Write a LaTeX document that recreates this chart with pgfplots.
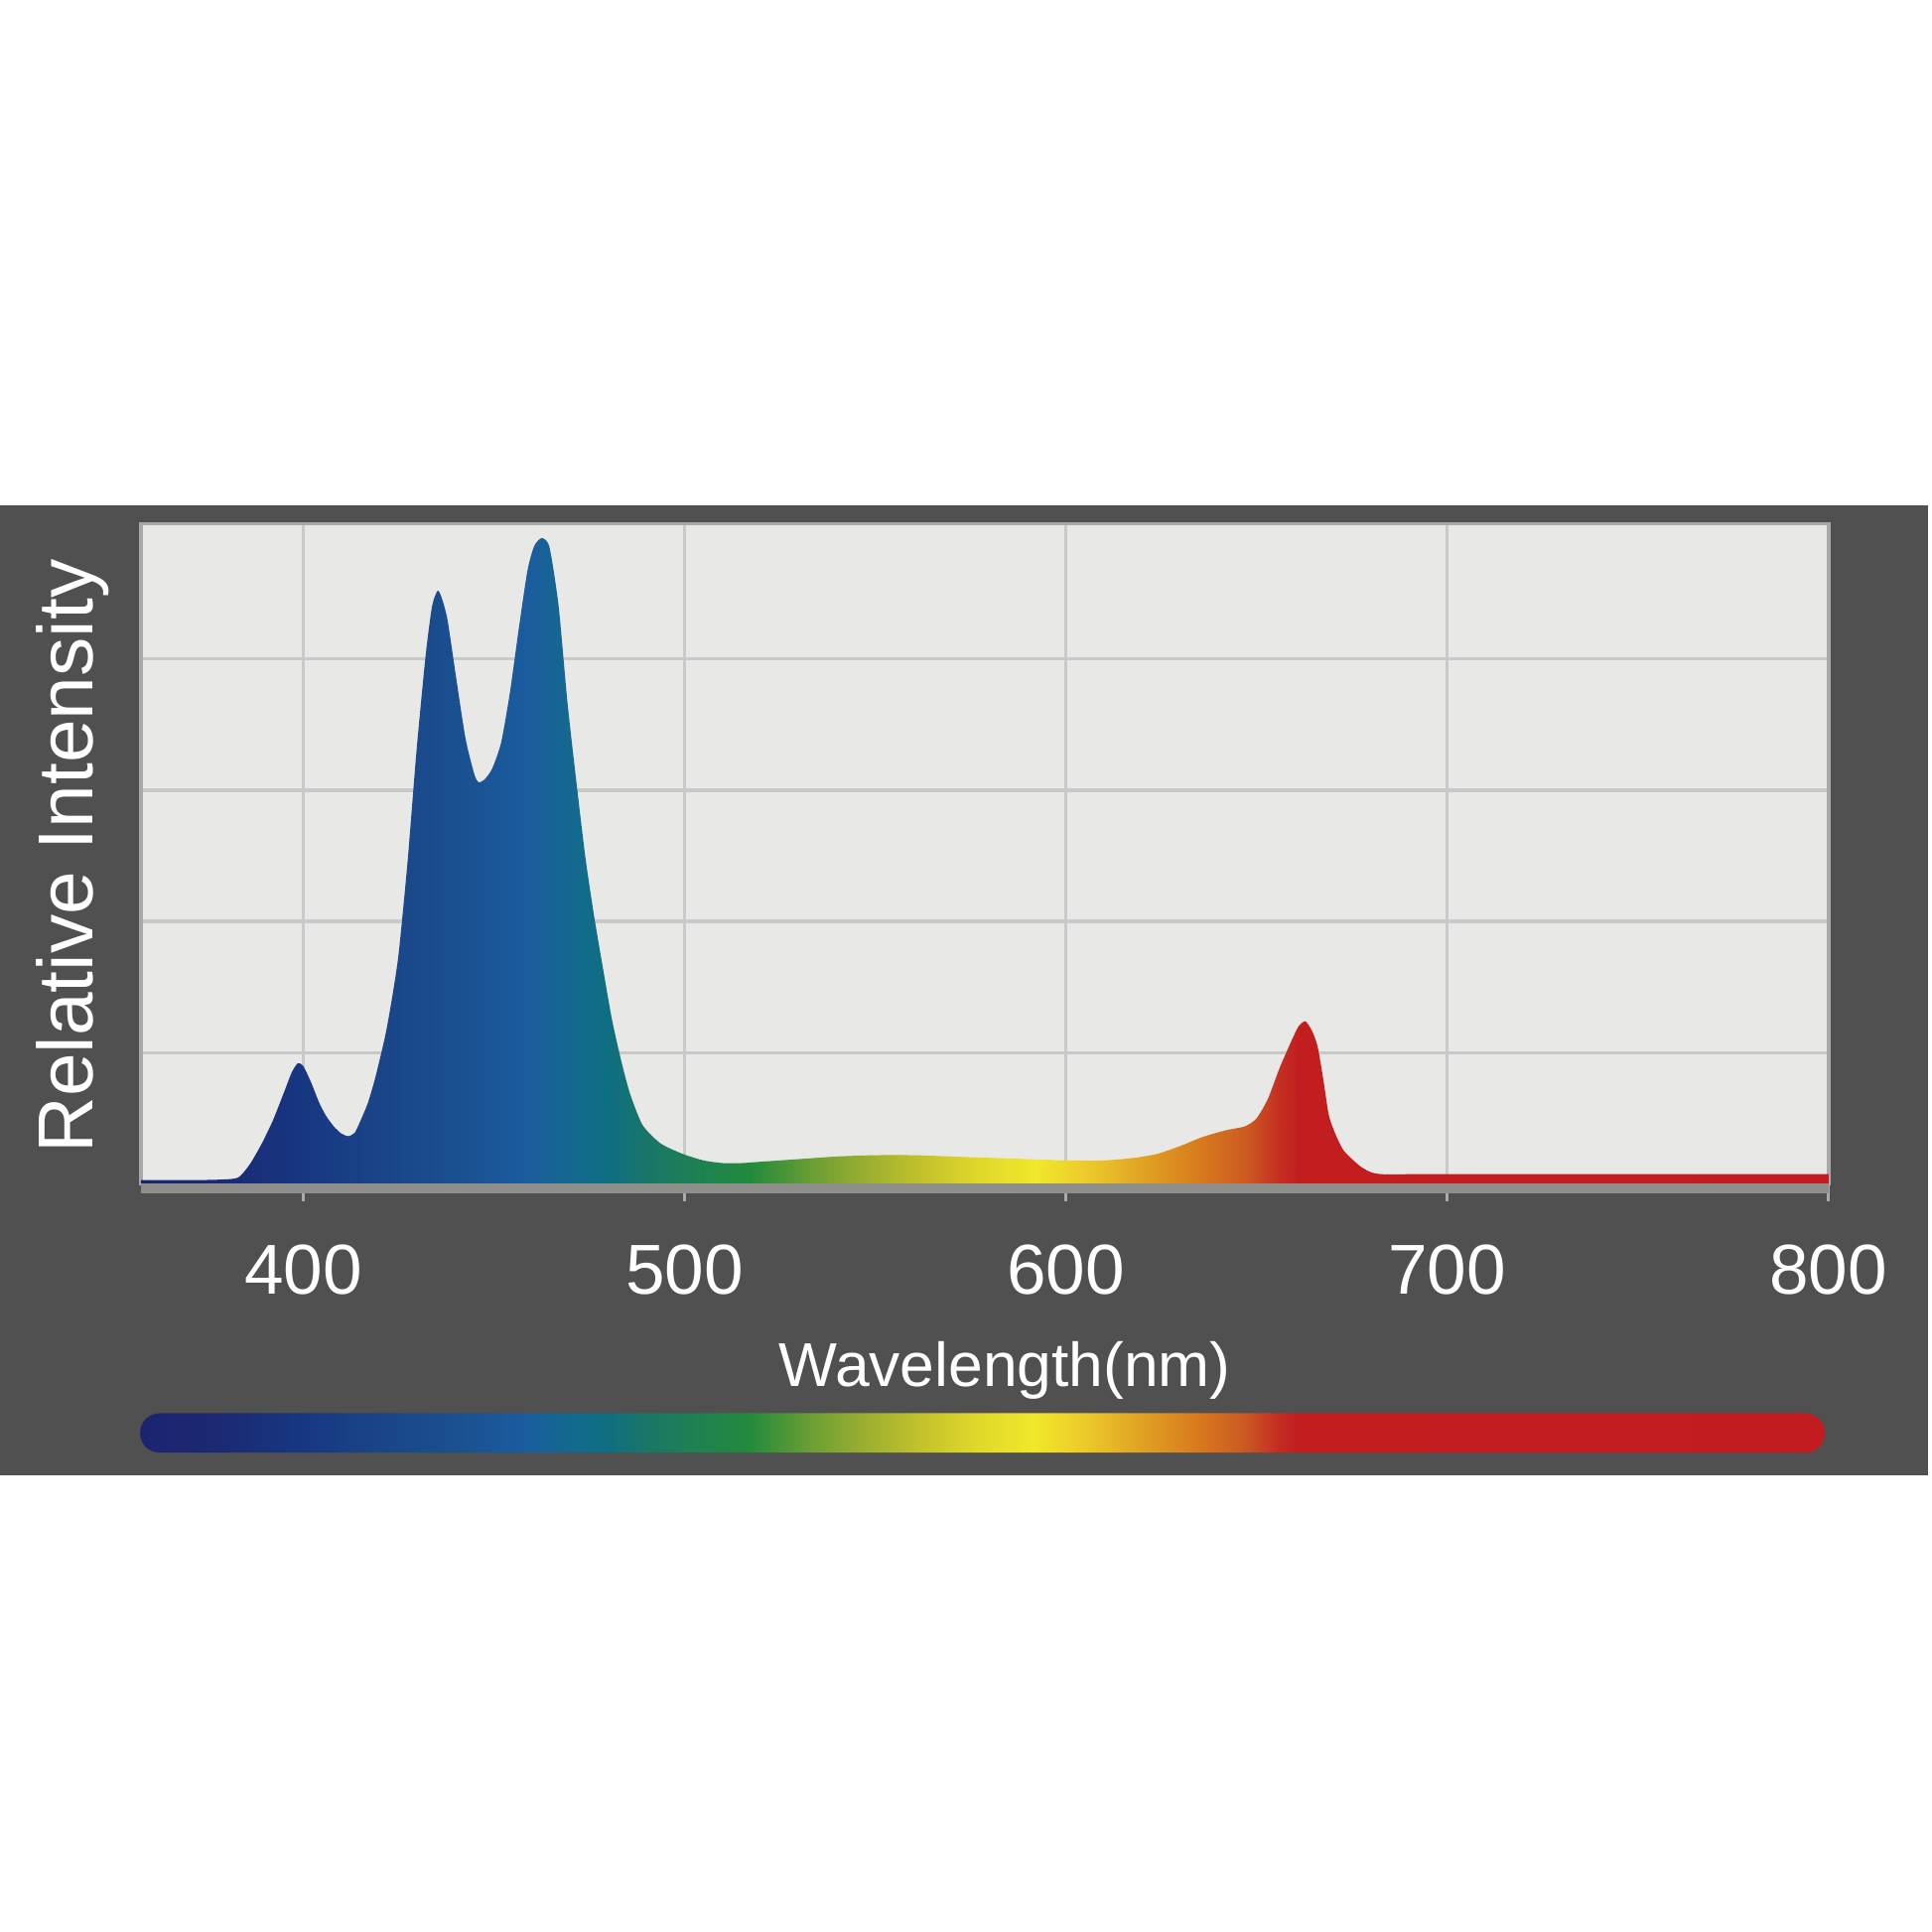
\documentclass[border=0pt]{standalone}
\usepackage{fontspec}
\setmainfont{Liberation Sans}
\usepackage{pgfplots}
\pgfplotsset{compat=1.18}
\usepackage{pgfplotstable}
\definecolor{panel}{HTML}{505050}
\definecolor{plotbg}{HTML}{E8E8E6}
\definecolor{gridc}{HTML}{C9C9C9}
\definecolor{framec}{HTML}{A8A8A8}
\definecolor{basec}{HTML}{8E8E8A}
\definecolor{tickc}{HTML}{ABABAB}
\definecolor{s1}{HTML}{1C2470}
\definecolor{s2}{HTML}{1C2872}
\definecolor{s3}{HTML}{173580}
\definecolor{s4}{HTML}{1A4488}
\definecolor{s5}{HTML}{1A5090}
\definecolor{s6}{HTML}{1A5C9E}
\definecolor{s7}{HTML}{136A8E}
\definecolor{s8}{HTML}{0E6E82}
\definecolor{s9}{HTML}{197668}
\definecolor{s10}{HTML}{1E8250}
\definecolor{s11}{HTML}{228A3C}
\definecolor{s12}{HTML}{6A9E34}
\definecolor{s13}{HTML}{9AAE30}
\definecolor{s14}{HTML}{C0C02C}
\definecolor{s15}{HTML}{E0D82A}
\definecolor{s16}{HTML}{F0E82A}
\definecolor{s17}{HTML}{ECC82A}
\definecolor{s18}{HTML}{E0A222}
\definecolor{s19}{HTML}{D87A1E}
\definecolor{s20}{HTML}{CC5A22}
\definecolor{s21}{HTML}{C42E22}
\definecolor{s22}{HTML}{C21E20}
\definecolor{s23}{HTML}{C21C20}
\pgfdeclarehorizontalshading{spectrum}{100bp}{color(0bp)=(s1); color(25bp)=(s1); color(27.144bp)=(s2); color(29.515bp)=(s3); color(31.998bp)=(s4); color(34.368bp)=(s5); color(36.40bp)=(s6); color(37.867bp)=(s7); color(38.77bp)=(s8); color(40.011bp)=(s9); color(41.591bp)=(s10); color(43.059bp)=(s11); color(44.865bp)=(s12); color(46.445bp)=(s13); color(48.025bp)=(s14); color(49.831bp)=(s15); color(51.524bp)=(s16); color(53.104bp)=(s17); color(54.684bp)=(s18); color(56.377bp)=(s19); color(57.731bp)=(s20); color(58.747bp)=(s21); color(59.311bp)=(s22); color(75bp)=(s23); color(100bp)=(s23)}
\pgfplotstableread{
x y
357.5 0.03
365 0.03
372 0.03
379 0.035
383 0.05
386 0.15
389 0.30
392 0.48
395 0.70
397 0.85
398.6 0.92
400 0.90
402 0.78
404.2 0.62
406 0.52
408 0.44
410 0.385
411.8 0.365
413.5 0.39
415 0.48
417 0.62
419 0.82
421.6 1.14
423.5 1.45
425.1 1.77
427.4 2.46
429.7 3.29
432.1 4.02
433.8 4.40
435.3 4.52
436.5 4.45
437.9 4.29
440.2 3.84
442.6 3.39
444.9 3.12
446 3.06
447.5 3.08
449.5 3.16
451.9 3.36
454.2 3.74
456.5 4.22
458.8 4.67
460.6 4.86
462.6 4.92
464.6 4.85
467 4.40
469.3 3.67
471.7 3.05
474 2.49
476.3 2.04
478.7 1.63
481 1.25
483.4 0.94
485.7 0.69
489 0.45
493.7 0.31
499.5 0.23
505 0.18
510 0.16
515 0.16
520 0.17
530 0.19
540 0.21
550 0.22
560 0.22
570 0.21
580 0.20
590 0.19
600 0.18
610 0.18
618 0.20
624 0.23
630 0.29
636 0.36
642 0.41
647 0.44
650 0.50
653 0.65
656 0.88
659 1.08
661 1.20
662.8 1.24
664.5 1.17
666 1.05
667.5 0.80
669 0.52
671 0.36
673 0.25
677 0.14
680 0.09
683 0.075
690 0.075
700 0.075
720 0.075
760 0.075
800 0.075
}\spec
\begin{document}
\begin{tikzpicture}
\fill[white] (0,0) rectangle (15.68,15.68);
\fill[panel] (0,3.71) rectangle (15.65,11.58);
\begin{axis}[
  at={(1.145cm,6.07cm)}, anchor=south west,
  scale only axis, width=13.695cm, height=5.36cm,
  xmin=357.5, xmax=800, ymin=0, ymax=5.03,
  axis background/.style={fill=plotbg},
  xtick={400,500,600,700,800},
  xtick pos=bottom,
  ytick={1,2,3,4}, yticklabels={},
  ytick style={draw=none},
  xtick style={tickc, line width=0.7pt},
  tick align=outside, major tick length=0.14cm,
  grid=major, major grid style={gridc, line width=0.8pt},
  axis line style={framec, line width=0.8pt},
  xticklabel style={text=white, font=\fontsize{16.3}{19}\selectfont, anchor=base, yshift=-0.75cm},
  /pgf/number format/assume math mode=true,
  clip=false,
]
\addplot[draw=none, shading=spectrum, smooth, tension=0.4] table[x=x, y=y] {\spec} \closedcycle;
\draw[basec, line width=2.2pt] (axis cs:357.5,-0.033) -- (axis cs:800,-0.033);
\end{axis}
\shade[shading=spectrum, rounded corners=0.16cm] (1.136,3.89) rectangle (14.81,4.21);
\node[text=white, font=\fontsize{14.3}{17}\selectfont, anchor=base, inner sep=0pt] at (8.155,4.43) {Wavelength(nm)};
\node[text=white, font=\fontsize{18}{22}\selectfont, anchor=base, rotate=90, inner sep=0pt] at (0.755,8.73) {Relative Intensity};
\end{tikzpicture}
\end{document}
